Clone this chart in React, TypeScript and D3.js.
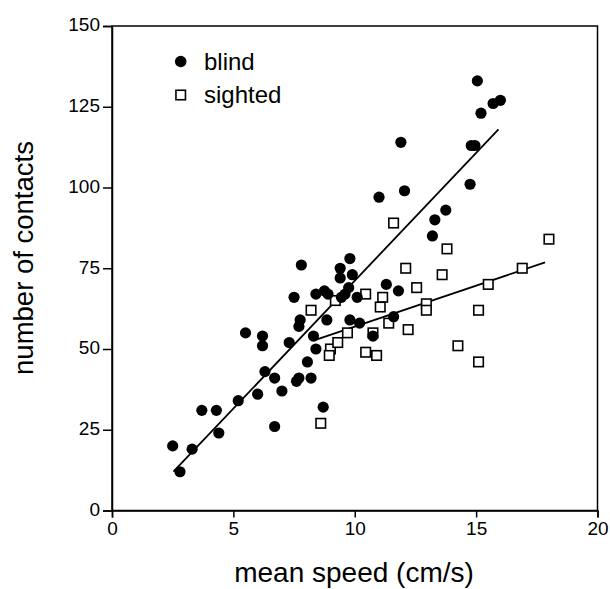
import React, { useEffect, useRef } from 'react';
import * as d3 from 'd3';

// mean speed (cm/s) vs number of contacts
const blindSpeed = [
  2.5, 2.8, 3.3, 3.7, 4.3, 4.4, 5.2, 5.5, 6.0, 6.2, 6.2, 6.3, 6.7, 6.7, 7.0,
  7.3, 7.5, 7.8, 7.75, 7.7, 7.6, 7.7, 8.05, 8.2, 8.3, 8.4, 8.7, 8.85, 8.4,
  8.75, 8.9, 9.4, 9.4, 9.8, 9.9, 9.45, 9.75, 9.6, 10.1, 9.8, 10.2, 10.75,
  11.3, 11.8, 11.6, 11.0, 11.9, 12.05, 13.2, 13.3, 13.75, 14.75, 14.8, 14.95,
  15.05, 15.2, 15.7, 16.0,
];
const blindContacts = [
  20, 12, 19, 31, 31, 24, 34, 55, 36, 54, 51, 43, 41, 26, 37,
  52, 66, 76, 59, 57, 40, 41, 46, 41, 54, 50, 32, 59, 67,
  68, 67, 75, 72, 78, 73, 66, 69, 67, 66, 59, 58, 54,
  70, 68, 60, 97, 114, 99, 85, 90, 93, 101, 113, 113,
  133, 123, 126, 127,
];

const sightedSpeed = [
  8.6, 8.2, 9.2, 9.0, 8.95, 9.3, 9.7, 10.45, 10.75, 10.45, 10.9, 11.15, 11.05,
  11.4, 11.6, 12.1, 12.2, 12.55, 12.95, 12.95, 13.6, 13.8, 14.25, 15.1, 15.1,
  15.5, 16.9, 18.0,
];
const sightedContacts = [
  27, 62, 65, 50, 48, 52, 55, 67, 55, 49, 48, 66, 63,
  58, 89, 75, 56, 69, 64, 62, 73, 81, 51, 62, 46,
  70, 75, 84,
];

// regression lines (end points)
const blindFit: [number, number][] = [[2.53, 12], [15.92, 118]];
const sightedFit: [number, number][] = [[8.32, 52.7], [17.84, 76.8]];

const xTicks = [0, 5, 10, 15, 20];
const yTicks = [0, 25, 50, 75, 100, 125, 150];

const FONT = '"Liberation Sans", Arial, Helvetica, sans-serif';

const App: React.FC = () => {
  const svgRef = useRef<SVGSVGElement>(null);

  useEffect(() => {
    if (!svgRef.current) return;
    const svg = d3.select(svgRef.current);
    svg.selectAll('*').remove();

    const x = d3.scaleLinear().domain([0, 20]).range([112, 597.5]);
    const y = d3.scaleLinear().domain([0, 150]).range([510.5, 26]);

    const g = svg.append('g');

    // frame
    g.append('rect')
      .attr('x', x(0))
      .attr('y', y(150))
      .attr('width', x(20) - x(0))
      .attr('height', y(0) - y(150))
      .attr('fill', 'none')
      .attr('stroke', '#000')
      .attr('stroke-width', 1.5);

    // x axis
    const xAxis = g.append('g')
      .attr('transform', `translate(0,${y(0)})`)
      .call(d3.axisBottom(x).tickValues(xTicks).tickSize(7).tickPadding(4));
    xAxis.select('.domain').attr('stroke-width', 1.5);
    xAxis.selectAll('.tick line').attr('stroke-width', 1.5);
    xAxis.selectAll('.tick text')
      .attr('font-family', FONT)
      .attr('font-size', 19)
      .attr('fill', '#000');

    // y axis
    const yAxis = g.append('g')
      .attr('transform', `translate(${x(0)},0)`)
      .call(d3.axisLeft(y).tickValues(yTicks).tickSize(9).tickPadding(3));
    yAxis.select('.domain').attr('stroke-width', 1.5);
    yAxis.selectAll('.tick line').attr('stroke-width', 1.5);
    yAxis.selectAll('.tick text')
      .attr('font-family', FONT)
      .attr('font-size', 19)
      .attr('dy', '0.25em')
      .attr('fill', '#000');

    // axis titles
    g.append('text')
      .attr('x', 354)
      .attr('y', 582)
      .attr('text-anchor', 'middle')
      .attr('font-family', FONT)
      .attr('font-size', 28)
      .text('mean speed (cm/s)');

    g.append('text')
      .attr('transform', 'translate(33,258) rotate(-90)')
      .attr('text-anchor', 'middle')
      .attr('font-family', FONT)
      .attr('font-size', 27.5)
      .text('number of contacts');

    // fit lines
    const line = d3.line<[number, number]>()
      .x(d => x(d[0]))
      .y(d => y(d[1]));

    [blindFit, sightedFit].forEach(fit => {
      g.append('path')
        .attr('d', line(fit))
        .attr('fill', 'none')
        .attr('stroke', '#000')
        .attr('stroke-width', 1.8);
    });

    // sighted: open squares
    const sq = 9.5;
    g.selectAll('.sighted')
      .data(d3.range(sightedSpeed.length))
      .enter().append('rect')
      .attr('class', 'sighted')
      .attr('x', i => x(sightedSpeed[i]) - sq / 2)
      .attr('y', i => y(sightedContacts[i]) - sq / 2)
      .attr('width', sq)
      .attr('height', sq)
      .attr('fill', '#fff')
      .attr('stroke', '#000')
      .attr('stroke-width', 1.6);

    // blind: filled circles
    g.selectAll('.blind')
      .data(d3.range(blindSpeed.length))
      .enter().append('circle')
      .attr('class', 'blind')
      .attr('cx', i => x(blindSpeed[i]))
      .attr('cy', i => y(blindContacts[i]))
      .attr('r', 5.6)
      .attr('fill', '#000');

    // legend
    const legend = g.append('g');
    legend.append('circle')
      .attr('cx', 180.7)
      .attr('cy', 61.5)
      .attr('r', 5.8)
      .attr('fill', '#000');
    legend.append('rect')
      .attr('x', 180.7 - sq / 2)
      .attr('y', 95 - sq / 2)
      .attr('width', sq)
      .attr('height', sq)
      .attr('fill', '#fff')
      .attr('stroke', '#000')
      .attr('stroke-width', 1.6);
    legend.append('text')
      .attr('x', 204)
      .attr('y', 69.5)
      .attr('font-family', FONT)
      .attr('font-size', 24)
      .text('blind');
    legend.append('text')
      .attr('x', 204)
      .attr('y', 102.5)
      .attr('font-family', FONT)
      .attr('font-size', 24)
      .text('sighted');
  }, []);

  return (
    <svg
      ref={svgRef}
      width={610}
      height={589}
      style={{ position: 'absolute', left: 0, top: 0, background: '#fff' }}
    />
  );
};

export default App;
